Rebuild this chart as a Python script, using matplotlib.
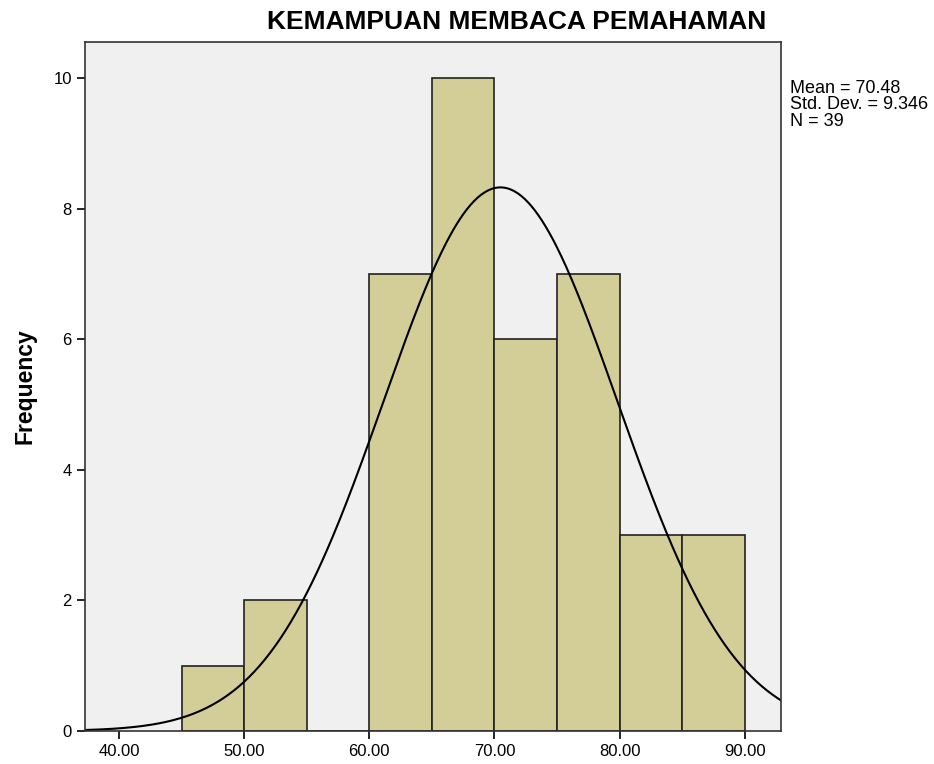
import numpy as np
import matplotlib.pyplot as plt

plt.rcParams['font.family'] = ['Liberation Sans', 'DejaVu Sans']

# histogram bins (SPSS, width 5) and frequencies
bin_edges = [45, 50, 55, 60, 65, 70, 75, 80, 85, 90]
freq = [1, 2, 0, 7, 10, 6, 7, 3, 3]
mean, sd, n = 70.48, 9.346, 39
xticks = [40, 50, 60, 70, 80, 90]
yticks = [0, 2, 4, 6, 8, 10]

fig = plt.figure(figsize=(9.34, 7.64), dpi=100)
ax = fig.add_axes([85/934, 33/764, 696/934, 689/764])
ax.set_facecolor('#f0f0f0')

lefts = bin_edges[:-1]
widths = np.diff(bin_edges)
ax.bar(lefts, freq, width=widths, align='edge', color='#d3ce97',
       edgecolor='#222222', linewidth=1.2)

# normal curve scaled to counts
xs = np.linspace(37.28, 92.9, 400)
ys = n * 5 * np.exp(-0.5 * ((xs - mean) / sd) ** 2) / (sd * np.sqrt(2 * np.pi))
ax.plot(xs, ys, color='black', linewidth=1.5)

ax.set_xlim(37.28, 92.9)
ax.set_ylim(0, 10.55)
ax.set_xticks(xticks)
ax.set_xticklabels(['%.2f' % v for v in xticks])
ax.set_yticks(yticks)
ax.tick_params(labelsize=12, direction='out', length=6, width=1.2)
for s in ax.spines.values():
    s.set_linewidth(1.2)
    s.set_color('#333333')

ax.set_ylabel('Frequency', fontsize=16.5, fontweight='bold', labelpad=12)
fig.text(517/934, 1 - 22/764, 'KEMAMPUAN MEMBACA PEMAHAMAN', ha='center', va='center',
         fontsize=19, fontweight='bold')
fig.text(790/934, 1 - 80/764, 'Mean = %.2f\nStd. Dev. = %.3f\nN = %d' % (mean, sd, n),
         ha='left', va='top', fontsize=13, linespacing=0.95)

fig.savefig('out.png', dpi=100)
